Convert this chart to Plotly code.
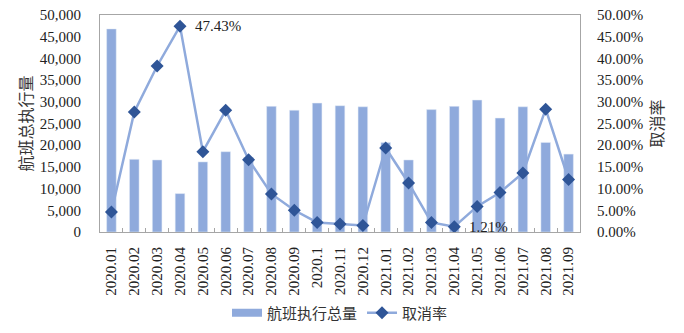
import plotly.graph_objects as go

months = ["2020.01", "2020.02", "2020.03", "2020.04", "2020.05", "2020.06", "2020.07",
          "2020.08", "2020.09", "2020.1", "2020.11", "2020.12", "2021.01", "2021.02",
          "2021.03", "2021.04", "2021.05", "2021.06", "2021.07", "2021.08", "2021.09"]
flights = [46800, 16750, 16600, 8850, 16150, 18500, 17200, 28950, 28050, 29700, 29100,
           28850, 20650, 16600, 28200, 28950, 30400, 26250, 28850, 20650, 17950]
cancel_rate = [0.046, 0.2765, 0.3825, 0.4743, 0.185, 0.2804, 0.1666, 0.0876, 0.050, 0.022,
               0.0184, 0.015, 0.1935, 0.113, 0.022, 0.0121, 0.059, 0.091, 0.136, 0.283, 0.121]
labeled_points = ["2020.04", "2021.04"]

serif = "Liberation Serif, Times New Roman, serif"
cjk = "Noto Sans CJK SC, sans-serif"
bar_color = "#8FAADC"
tick_font = dict(family=serif, size=15, color="#222")

fig = go.Figure()
fig.add_trace(go.Bar(x=months, y=flights, name="航班执行总量", marker_color=bar_color,
                     width=0.42, yaxis="y", showlegend=False))
# legend stand-in for the bar series (wide swatch)
fig.add_trace(go.Scatter(x=[None], y=[None], name="航班执行总量", mode="lines",
                         line=dict(color=bar_color, width=8), yaxis="y"))
fig.add_trace(go.Scatter(x=months, y=cancel_rate, name="取消率", yaxis="y2", mode="lines+markers",
                         line=dict(color=bar_color, width=2.5),
                         marker=dict(symbol="diamond", size=10, color="#2F5597")))

for lab in labeled_points:
    i = months.index(lab)
    fig.add_annotation(x=i, y=cancel_rate[i], xref="x", yref="y2",
                       text=f"{cancel_rate[i]*100:.2f}%", showarrow=False,
                       xanchor="left", xshift=13,
                       font=dict(family=serif, size=15, color="#222"))

# right axis title, reading bottom-to-top like the reference
fig.add_annotation(x=1, xref="paper", y=0.5, yref="paper", text="取消率", showarrow=False,
                   textangle=-90, xanchor="center", yanchor="middle", xshift=75,
                   font=dict(family=cjk, size=16, color="#333"))

fig.update_layout(
    width=684, height=333, margin=dict(l=100, r=104, t=15, b=101, autoexpand=False),
    paper_bgcolor="white", plot_bgcolor="white",
    xaxis=dict(type="category", range=[-0.5, len(months) - 0.5], showline=True,
               linecolor="#A6A6A6", mirror=True, automargin=False,
               ticks="inside", tickson="boundaries", ticklen=4, tickcolor="#A6A6A6",
               tickangle=-90, tickfont=tick_font,
               ticklabelstandoff=8, showgrid=False),
    yaxis=dict(range=[0, 50000], dtick=5000, tickformat=",", showgrid=False, zeroline=False,
               showline=True, linecolor="#A6A6A6", ticks="", automargin=False,
               tickfont=tick_font, ticklabelstandoff=15,
               title=dict(text="航班总执行量", font=dict(family=cjk, size=16, color="#333"), standoff=3)),
    yaxis2=dict(range=[0, 0.5], dtick=0.05, tickformat=".2%", overlaying="y", side="right",
                showgrid=False, zeroline=False, showline=True, linecolor="#A6A6A6", ticks="",
                automargin=False,
                tickfont=tick_font, ticklabelstandoff=13),
    legend=dict(orientation="h", x=0.5, xanchor="center", y=-0.373, yanchor="middle",
                font=dict(family=cjk, size=15, color="#333"), traceorder="normal",
                itemwidth=30),
    showlegend=True,
)

fig.write_html("out.html")
